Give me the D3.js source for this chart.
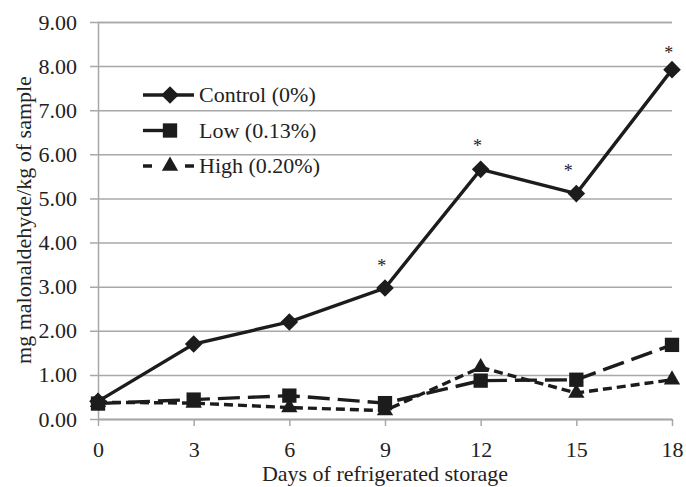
<!DOCTYPE html>
<html>
<head>
<meta charset="utf-8">
<script src="https://cdn.jsdelivr.net/npm/d3@7"></script>
<style>
  body { margin: 0; background: #fff; }
</style>
</head>
<body>
<div id="chart"></div>
<script>
// Chart data
const days = [0, 3, 6, 9, 12, 15, 18];
const control = [0.40, 1.70, 2.20, 2.97, 5.66, 5.11, 7.92];
const low = [0.35, 0.44, 0.53, 0.36, 0.87, 0.89, 1.68];
const high = [0.38, 0.36, 0.26, 0.19, 1.17, 0.59, 0.89];
const seriesNames = ["Control (0%)", "Low (0.13%)", "High (0.20%)"];
const yTicks = [0, 1, 2, 3, 4, 5, 6, 7, 8, 9];

// significance asterisks (day position, value position)
const starDays = [8.9, 11.9, 14.75, 17.9];
const starValues = [3.56, 6.28, 5.72, 8.38];

const FONT = "'Liberation Serif', 'Times New Roman', Times, 'DejaVu Serif', serif";

// Set dimensions and margins
const W = 686, H = 487;
const margin = { top: 22, right: 14, bottom: 68, left: 98 };
const width = W - margin.left - margin.right;
const height = H - margin.top - margin.bottom;

const svg = d3.select("#chart")
    .append("svg")
    .attr("width", W)
    .attr("height", H)
    .append("g")
    .attr("transform", `translate(${margin.left},${margin.top})`);

const x = d3.scaleLinear().domain([0, 18]).range([0, width]);
const y = d3.scaleLinear().domain([0, 9]).range([height, 0]);

const gridColor = "#a8a8a8";
const ink = "#1c1c1c";
const textColor = "#222";

// Y axis with gridlines
const yAxis = svg.append("g")
    .call(d3.axisLeft(y).tickValues(yTicks).tickSize(-width)
        .tickPadding(21).tickFormat(d3.format(".2f")));
yAxis.select(".domain").attr("stroke", gridColor).attr("stroke-width", 1.5);
yAxis.selectAll(".tick line").attr("x1", -8).attr("stroke", gridColor).attr("stroke-width", 1.5);
yAxis.selectAll(".tick text")
    .style("font-family", FONT).style("font-size", "22px").attr("fill", textColor);

// X axis
const xAxis = svg.append("g")
    .attr("transform", `translate(0,${height})`)
    .call(d3.axisBottom(x).tickValues(days).tickSize(7).tickPadding(15).tickSizeOuter(0));
xAxis.select(".domain").attr("stroke", gridColor).attr("stroke-width", 1.5);
xAxis.selectAll(".tick line").attr("stroke", gridColor).attr("stroke-width", 1.5);
xAxis.selectAll(".tick text")
    .style("font-family", FONT).style("font-size", "22px").attr("fill", textColor);

// Axis titles
svg.append("text")
    .attr("transform", `translate(${31 - margin.left},${220 - margin.top}) rotate(-90)`)
    .attr("text-anchor", "middle")
    .attr("fill", textColor)
    .style("font-family", FONT)
    .style("font-size", "22px")
    .text("mg malonaldehyde/kg of sample");

svg.append("text")
    .attr("x", width / 2)
    .attr("y", H - margin.top - 6)
    .attr("text-anchor", "middle")
    .attr("fill", textColor)
    .style("font-family", FONT)
    .style("font-size", "22px")
    .text("Days of refrigerated storage");

// Series definitions (legend dash is the look of the legend swatch)
const series = [
    { name: seriesNames[0], values: control, dash: null, legendDash: null, symbol: "diamond" },
    { name: seriesNames[1], values: low, dash: "22,8", legendDash: "22,40", symbol: "square" },
    { name: seriesNames[2], values: high, dash: "9,5", legendDash: "9,33,9", symbol: "triangle" }
];

function marker(sel, type) {
    if (type === "diamond") {
        sel.attr("d", d3.symbol(d3.symbolSquare, 155)()).attr("transform", function () {
            return d3.select(this).attr("transform") + " rotate(45)";
        });
    } else if (type === "square") {
        sel.attr("d", d3.symbol(d3.symbolSquare, 205)());
    } else {
        sel.attr("d", d3.symbol(d3.symbolTriangle, 115)());
    }
}

const line = d3.line().x((d, i) => x(days[i])).y(d => y(d));

// draw high first so control is on top
series.slice().reverse().forEach(s => {
    svg.append("path")
        .datum(s.values)
        .attr("fill", "none")
        .attr("stroke", ink)
        .attr("stroke-width", 3.4)
        .attr("stroke-dasharray", s.dash)
        .attr("d", line);

    svg.selectAll(null)
        .data(s.values)
        .enter()
        .append("path")
        .attr("fill", ink)
        .attr("transform", (d, i) => `translate(${x(days[i])},${y(d)})`)
        .call(marker, s.symbol);
});

// Asterisks
svg.selectAll(".star")
    .data(starDays)
    .enter()
    .append("text")
    .attr("class", "star")
    .attr("x", d => x(d))
    .attr("y", (d, i) => y(starValues[i]) + 10)
    .attr("text-anchor", "middle")
    .attr("fill", textColor)
    .style("font-family", FONT)
    .style("font-size", "18px")
    .text("*");

// Legend
const legend = svg.append("g")
    .attr("transform", `translate(${143 - margin.left},${95 - margin.top})`);
series.forEach((s, i) => {
    const row = legend.append("g").attr("transform", `translate(0,${i * 35.5})`);
    row.append("line")
        .attr("x1", 0).attr("x2", 51)
        .attr("stroke", ink)
        .attr("stroke-width", 3.4)
        .attr("stroke-dasharray", s.legendDash);
    row.append("path")
        .attr("fill", ink)
        .attr("transform", "translate(27,0)")
        .call(marker, s.symbol);
    row.append("text")
        .attr("x", 56)
        .attr("dy", "0.33em")
        .attr("fill", textColor)
        .style("font-family", FONT)
        .style("font-size", "22px")
        .text(s.name);
});
</script>
</body>
</html>
